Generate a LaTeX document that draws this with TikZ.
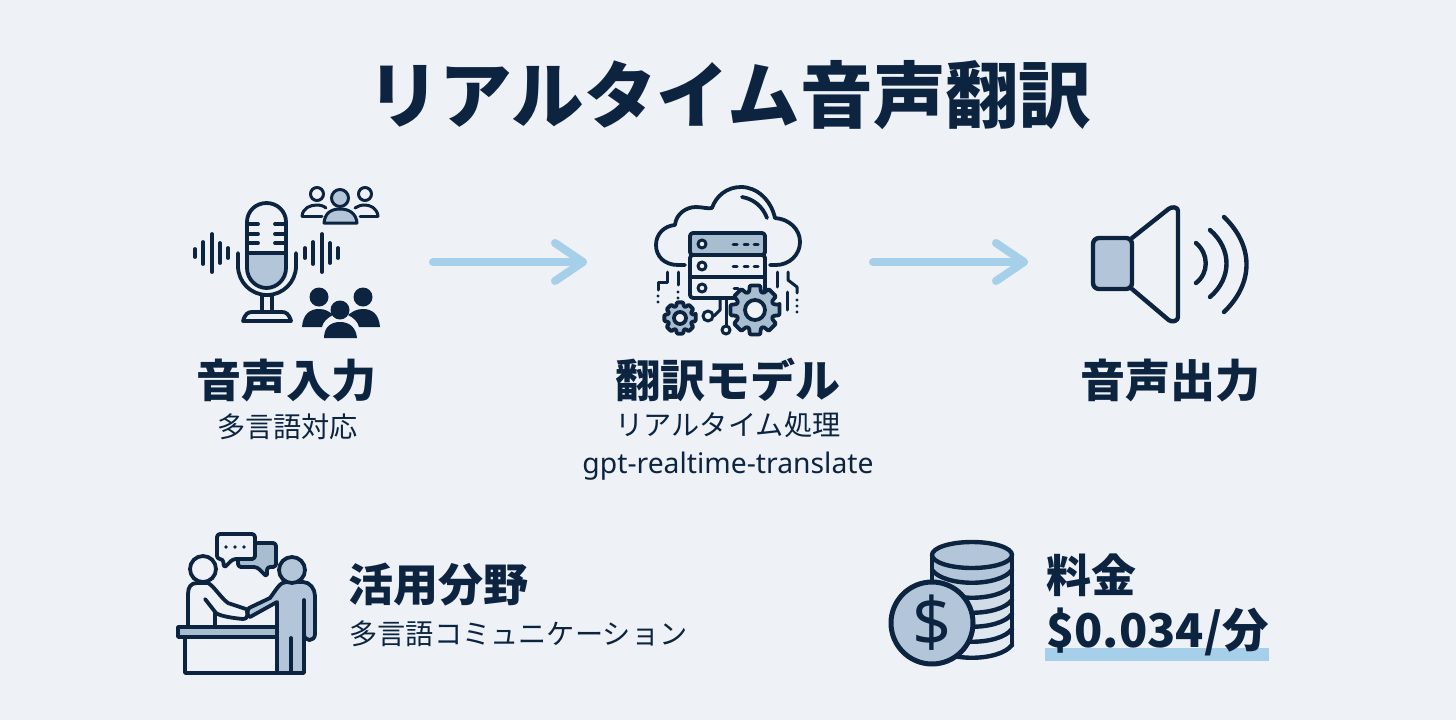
\documentclass[tikz,border=0pt]{standalone}
\usepackage{fontspec}
\setmainfont{Noto Sans CJK JP}
\newfontfamily\latinfont{Noto Sans}
\usetikzlibrary{arrows.meta}
\definecolor{bgc}{HTML}{EEF2F6}
\definecolor{navy}{HTML}{0C2440}
\definecolor{fillb}{HTML}{B3C6D9}
\definecolor{skyb}{HTML}{A6CFE9}
\definecolor{gearb}{HTML}{A9BDD0}
\tikzset{
  ln/.style={draw=navy,line width=3.8pt,line cap=round,line join=round},
  thin ln/.style={draw=navy,line width=3pt,line cap=round,line join=round},
  flow/.style={draw=skyb,line width=8pt,line cap=round,line join=round},
  titletext/.style={text=navy,font=\fontsize{72.6}{80}\selectfont\bfseries,inner sep=0pt},
  headtext/.style={text=navy,font=\fontsize{45}{50}\selectfont\bfseries,inner sep=0pt},
  subtext/.style={text=navy,font=\fontsize{28.2}{32}\selectfont,inner sep=0pt},
}
\newcommand{\gearshape}[4]{% cx,cy,R,hole
  \begin{scope}[shift={(#1,#2)}]
  \draw[ln,fill=gearb,rounded corners=1pt]
    (-12:#3) \foreach \a in {0,45,...,315}{ -- (\a-12:#3) -- (\a+12:#3) -- (\a+18:#3*0.76) -- (\a+27:#3*0.76)} -- cycle;
  \draw[ln,fill=bgc] (0,0) circle[radius=#4];
  \end{scope}}
\begin{document}
\begin{tikzpicture}[x=1pt,y=-1pt]
\useasboundingbox (0,0) rectangle (1456,720);
\fill[bgc] (0,0) rectangle (1456,720);

% Title
\node[titletext] (title) at (729,95) {リアルタイム音声翻訳};

% ---------- Microphone
\fill[fillb] (247,253) -- (286,253) -- (286,268) .. controls (286,279) and (277,288) .. (266.5,288) .. controls (256,288) and (247,279) .. (247,268) -- cycle;
\draw[ln] (247,222) .. controls (247,211) and (256,203) .. (266.5,203) .. controls (277,203) and (286,211) .. (286,222) -- (286,268) .. controls (286,279) and (277,288) .. (266.5,288) .. controls (256,288) and (247,279) .. (247,268) -- cycle;
\draw[ln] (247,253) -- (286,253);
\foreach \y in {224,234,243}{
  \draw[ln] (247,\y) -- (258,\y);
  \draw[ln] (275,\y) -- (286,\y);
}
\draw[ln] (238,253) -- (238,266) .. controls (238,282) and (251,295) .. (267,295) .. controls (283,295) and (296,282) .. (296,266) -- (296,253);
\draw[ln] (262,295) -- (262,312) (272,295) -- (272,312);
\draw[ln] (243,321) .. controls (245,314) and (248,312) .. (252,312) -- (282,312) .. controls (286,312) and (289,314) .. (291,321) -- cycle;
\foreach \x/\h in {195/4,203/11,212/19,220/10,228/5,305/5,313/11,322/19,330/10,338/5}{
  \draw[ln] (\x,253-\h) -- (\x,253+\h);
}
% outline group
\draw[thin ln] (302,216) .. controls (303,208) and (310,205) .. (317,205) .. controls (320,205) and (324,206) .. (326,208);
\draw[thin ln] (302,216) -- (322,216);
\draw[thin ln] (317,194) circle[radius=6.5];
\draw[thin ln] (378,216) .. controls (377,208) and (370,205) .. (365,205) .. controls (361,205) and (358,206) .. (355,208);
\draw[thin ln] (378,216) -- (360,216);
\draw[thin ln] (365,194) circle[radius=6.5];
\draw[thin ln,fill=fillb] (324,223) .. controls (325,213) and (331,209) .. (340,209) .. controls (349,209) and (356,213) .. (357,223) -- cycle;
\draw[thin ln,fill=fillb] (340,198) circle[radius=8.5];
% solid group
\fill[navy] (319,297) circle[radius=9.5];
\fill[navy] (363,297) circle[radius=9.5];
\fill[navy] (302,327) .. controls (303,314) and (310,309) .. (319,309) .. controls (326,309) and (330,312) .. (333,315) .. controls (327,318) and (323,322) .. (322,327) -- cycle;
\fill[navy] (380,327) .. controls (379,314) and (372,309) .. (363,309) .. controls (356,309) and (352,312) .. (348,315) .. controls (354,318) and (358,322) .. (359,327) -- cycle;
\fill[navy] (340,310) circle[radius=9.5];
\fill[navy] (324,338) .. controls (324,327) and (331,322) .. (340,322) .. controls (349,322) and (356,327) .. (357,338) -- cycle;

% ---------- Cloud + server
\draw[ln] (685,265) -- (678,265) .. controls (664,265) and (656,256) .. (656,245) .. controls (656,234) and (664,226) .. (675,225)
  .. controls (676,214) and (686,207) .. (696,207) .. controls (702,207) and (708,209) .. (712,208)
  .. controls (716,196) and (727,187) .. (741,187) .. controls (757,187) and (771,200) .. (775,218)
  .. controls (789,219) and (800,229) .. (800,242) .. controls (800,255) and (789,265) .. (776,265) -- (770,265);
\draw[ln] (742,197) .. controls (754,199) and (763,207) .. (767,218);
\draw[ln,fill=bgc,rounded corners=3pt] (690,255) rectangle (765,298);
\draw[ln,fill=gearb,rounded corners=3pt] (690,233) rectangle (765,255);
\draw[ln] (690,277) -- (765,277);
\foreach \y in {244,266,288}{ \draw[thin ln,fill=bgc] (702,\y) circle[radius=4]; }
\foreach \y in {244,266}{ \foreach \x in {735,746,756}{ \draw[thin ln] (\x-2,\y) -- (\x+2,\y); } }
\draw[thin ln] (734,288) -- (738,288);
% circuit lines
\draw[thin ln] (667,272) -- (667,282) -- (658,282) -- (658,290);
\draw[thin ln] (678,272) -- (678,285);
\draw[thin ln] (777,272) -- (777,287);
\draw[thin ln] (788,272) -- (788,280) -- (797,287) -- (797,293);
\draw[thin ln] (787,292) -- (787,310);
\foreach \p in {(658,296),(658,302),(678,292),(678,298),(797,300),(797,306),(797,312)}{ \fill[navy] \p circle[radius=1.7]; }
\draw[thin ln] (720,298) -- (720,310) -- (714,316);
\draw[thin ln] (708,316) circle[radius=5];
\draw[thin ln] (726,298) -- (726,326);
\draw[thin ln] (726,330) circle[radius=4];
\gearshape{680}{318}{16}{6}
\gearshape{755}{310}{25}{10}

% ---------- Speaker
\draw[ln,line width=4.4pt,rounded corners=3pt] (1132,238) -- (1171,207) -- (1178,208) -- (1178,320) -- (1171,322) -- (1132,289);
\draw[ln,line width=4.4pt,fill=fillb,rounded corners=6pt] (1132,238) -- (1093,238) -- (1093,289) -- (1132,289) -- cycle;
\draw[ln,line width=4.4pt] (1196,243) .. controls (1209,254) and (1209,273) .. (1196,283);
\draw[ln,line width=4.4pt] (1210,230) .. controls (1232,249) and (1232,278) .. (1210,297);
\draw[ln,line width=4.4pt] (1224,217) .. controls (1254,246) and (1254,283) .. (1224,312);

% ---------- Flow arrows
\coordinate (a1s) at (433,262);
\coordinate (a1e) at (583,262);
\coordinate (a1u) at (555,243);
\coordinate (a1d) at (555,281);
\coordinate (a2s) at (873,262);
\coordinate (a2e) at (1024,262);
\coordinate (a2u) at (996,243);
\coordinate (a2d) at (996,281);
\draw[flow] (a1s) -- (a1e);
\draw[flow] (a1u) -- (a1e) -- (a1d);
\draw[flow] (a2s) -- (a2e);
\draw[flow] (a2u) -- (a2e) -- (a2d);

% ---------- Labels
\node[headtext] (inlabel) at (286.5,381) {音声入力};
\node[subtext] (insub) at (287.5,427) {多言語対応};
\node[headtext] (modellabel) at (727.5,380) {翻訳モデル};
\node[subtext] (modelsub) at (728,425) {リアルタイム処理};
\node[subtext,font=\latinfont\fontsize{28.3}{32}\selectfont] (modelname) at (728,466) {gpt-realtime-translate};
\node[headtext] (outlabel) at (1170,381) {音声出力};

% ---------- Use-case icon
\draw[ln,fill=gearb,rounded corners=3pt] (238,543) -- (276,543) -- (276,567) -- (267,567) -- (267,577) -- (257,567) -- (238,567) -- cycle;
\draw[ln,fill=bgc,rounded corners=3pt] (217,534) -- (255,534) -- (255,559) -- (233,559) -- (224,568) -- (223,559) -- (217,559) -- cycle;
\foreach \x in {226,235,244}{ \fill[navy] (\x,547) circle[radius=1.8]; }
% left person
\draw[ln] (203,569) circle[radius=13];
\draw[ln] (188,627) -- (188,594) .. controls (188,587) and (191,583) .. (197,583) -- (208,583) .. controls (214,586) and (220,597) .. (228,603) -- (246,609);
\draw[ln] (205,599) -- (216,613) .. controls (220,616) and (232,618) .. (243,619) .. controls (247,619) and (248,616) .. (247,611);
\draw[ln] (215,613) -- (215,627);
% right person
\draw[ln,fill=fillb] (277,673) -- (277,602) -- (250,617) .. controls (247,616) and (247,611) .. (249,608) -- (270,598) .. controls (276,590) and (280,582) .. (286,582) -- (303,582) .. controls (310,582) and (315,589) .. (315,596) -- (315,634) .. controls (315,642) and (304,642) .. (304,634) -- (304,673) -- cycle;
\draw[ln] (304,600) -- (304,634);
\draw[ln] (291,638) -- (291,673);
\draw[ln,fill=fillb] (292,570) circle[radius=13];
% counter
\draw[ln,fill=bgc] (185,637) rectangle (277,673);
\draw[ln,fill=gearb] (178,627) rectangle (277,637);
\node[headtext] (uselabel) at (438.5,585) {活用分野};
\node[subtext] (usesub) at (518.5,634) {多言語コミュニケーション};

% ---------- Coins
\foreach \yc/\mix in {645/18,629/25,614/35,600/50,585/75,570/100}{
  \fill[fillb!\mix!bgc] (932,555) -- (932,\yc) .. controls (945,\yc+17) and (999,\yc+17) .. (1012,\yc) -- (1012,555) -- cycle;
  \draw[ln,line width=4.4pt] (932,\yc) .. controls (945,\yc+17) and (999,\yc+17) .. (1012,\yc);
}
\draw[ln,line width=4.4pt] (932,555) -- (932,645) (1012,555) -- (1012,645);
\draw[ln,line width=4.4pt,fill=fillb] (972,555) ellipse[x radius=40,y radius=13];
\draw[ln,line width=5pt,fill=fillb] (932,623) circle[radius=41];
\node[text=navy,inner sep=0pt,font=\latinfont\fontsize{68}{70}\selectfont] (dollar) at (932,623) {\$};

% ---------- Price
\fill[skyb] (1045,648) rectangle (1269,661);
\node[headtext,anchor=west] (pricehead) at (1046,575) {料金};
\node[headtext,anchor=west,font=\fontsize{46.5}{50}\selectfont\bfseries] (price) at (1046,632) {\$0.034/分};
\end{tikzpicture}
\end{document}
